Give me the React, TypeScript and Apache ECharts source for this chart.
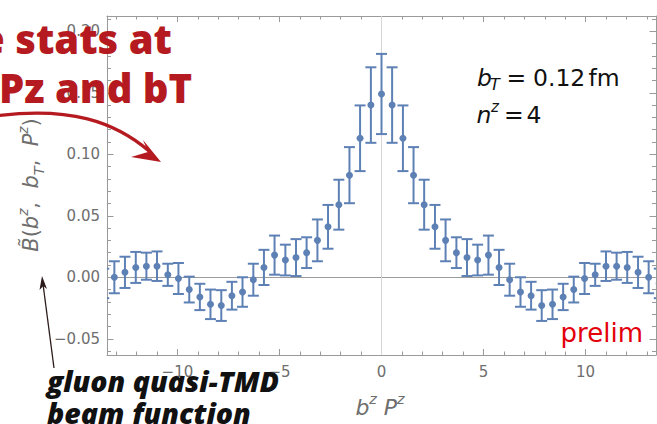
import { useEffect, useRef } from "react";
import * as echarts from "echarts";

// b^z P^z sample positions (n^z = 4)
const bzPz = [
  -13.61, -13.09, -12.57, -12.04, -11.52, -11.0, -10.47, -9.95, -9.42, -8.9,
  -8.38, -7.85, -7.33, -6.81, -6.28, -5.76, -5.24, -4.71, -4.19, -3.67, -3.14,
  -2.62, -2.09, -1.57, -1.05, -0.52, 0, 0.52, 1.05, 1.57, 2.09, 2.62, 3.14,
  3.67, 4.19, 4.71, 5.24, 5.76, 6.28, 6.81, 7.33, 7.85, 8.38, 8.9, 9.42, 9.95,
  10.47, 11.0, 11.52, 12.04, 12.57, 13.09, 13.61,
];

// quasi-TMD beam function values
const beamValues = [
  -0.005, 0.0, 0.004, 0.008, 0.009, 0.009, 0.002, -0.001, -0.01, -0.016,
  -0.022, -0.023, -0.015, -0.012, -0.002, 0.008, 0.018, 0.014, 0.016, 0.02,
  0.03, 0.041, 0.059, 0.083, 0.113, 0.14, 0.149, 0.14, 0.113, 0.083, 0.059,
  0.041, 0.03, 0.02, 0.016, 0.014, 0.018, 0.008, -0.002, -0.012, -0.015,
  -0.023, -0.022, -0.016, -0.01, -0.001, 0.002, 0.009, 0.009, 0.008, 0.004,
  0.0, -0.005,
];

// statistical uncertainties
const beamErrors = [
  0.012, 0.013, 0.0127, 0.0126, 0.011, 0.012, 0.009, 0.0126, 0.0105, 0.0107,
  0.012, 0.0125, 0.0113, 0.012, 0.013, 0.0143, 0.0159, 0.0125, 0.015, 0.0125,
  0.017, 0.0178, 0.0203, 0.0228, 0.0267, 0.0307, 0.0326, 0.0307, 0.0267,
  0.0228, 0.0203, 0.0178, 0.017, 0.0125, 0.015, 0.0125, 0.0159, 0.0143, 0.013,
  0.012, 0.0113, 0.0125, 0.012, 0.0107, 0.0105, 0.0126, 0.009, 0.012, 0.011,
  0.0126, 0.0127, 0.013, 0.012,
];

const xMajorTicks = [-10, -5, 0, 5, 10];
const xMinorTicks = [
  -13, -12, -11, -9, -8, -7, -6, -4, -3, -2, -1, 1, 2, 3, 4, 6, 7, 8, 9, 11, 12, 13,
];
const yMajorTicks = [-0.05, 0, 0.05, 0.1, 0.15, 0.2];
const yMinorTicks = [
  -0.06, -0.04, -0.03, -0.02, -0.01, 0.01, 0.02, 0.03, 0.04, 0.06, 0.07, 0.08,
  0.09, 0.11, 0.12, 0.13, 0.14, 0.16, 0.17, 0.18, 0.19, 0.21,
];

const X_MIN = -13.45;
const X_MAX = 13.45;
const Y_MIN = -0.0632;
const Y_MAX = 0.2124;

const BLUE = "#5E81B5";
const FRAME = "#9a9a9a";
const LABEL = "#6e6e6e";
const DARK_RED = "#B51A20";
const INK = "#111111";

const tickFont = { fontFamily: "DejaVu Sans", fontSize: 15, color: LABEL };

function xAxisDef(position: string, ticks: number[], len: number, labels: boolean, line: boolean) {
  return {
    type: "value",
    min: X_MIN,
    max: X_MAX,
    position,
    axisLine: { show: line, onZero: false, lineStyle: { color: FRAME, width: 1 } },
    axisTick: { show: true, inside: true, length: len, customValues: ticks, lineStyle: { color: FRAME, width: 1 } },
    axisLabel: {
      show: labels,
      customValues: ticks,
      margin: 9,
      ...tickFont,
      formatter: (v: number) => String(v).replace("-", "\u2212"),
    },
    splitLine: { show: false },
  };
}

function yAxisDef(position: string, ticks: number[], len: number, labels: boolean, line: boolean) {
  return {
    type: "value",
    min: Y_MIN,
    max: Y_MAX,
    position,
    axisLine: { show: line, onZero: false, lineStyle: { color: FRAME, width: 1 } },
    axisTick: { show: true, inside: true, length: len, customValues: ticks, lineStyle: { color: FRAME, width: 1 } },
    axisLabel: {
      show: labels,
      customValues: ticks,
      margin: 7,
      ...tickFont,
      formatter: (v: number) => v.toFixed(2).replace("-", "\u2212"),
    },
    splitLine: { show: false },
  };
}

// one piece of typeset math, placed by its baseline
function mathPiece(text: string, x: number, baseline: number, size: number, italic: boolean, color: string) {
  return {
    type: "text",
    x,
    y: baseline - 0.35 * size,
    z: 50,
    style: {
      text,
      fill: color,
      fontFamily: "DejaVu Sans",
      fontStyle: italic ? "italic" : "normal",
      fontSize: size,
      align: "left",
      verticalAlign: "middle",
    },
  };
}

export default function App() {
  const ref = useRef<HTMLDivElement>(null);

  useEffect(() => {
    if (!ref.current) return;
    const chart = echarts.init(ref.current, undefined, { renderer: "svg" });

    const points = bzPz.map((x, i) => [x, beamValues[i], beamErrors[i]]);

    const mathRich = (size: number, color: string) => ({
      i: { fontFamily: "DejaVu Sans", fontStyle: "italic", fontSize: size, lineHeight: 30, fill: color },
      n: { fontFamily: "DejaVu Sans", fontSize: size, lineHeight: 30, fill: color },
      sup: { fontFamily: "DejaVu Sans", fontStyle: "italic", fontSize: size * 0.65, lineHeight: 15, verticalAlign: "top", fill: color },
      sub: { fontFamily: "DejaVu Sans", fontStyle: "italic", fontSize: size * 0.7, lineHeight: 15, verticalAlign: "bottom", fill: color },
    });

    chart.setOption({
      animation: false,
      grid: { left: 107, top: 16, right: 1, bottom: 69, containLabel: false },
      xAxis: [
        xAxisDef("bottom", xMajorTicks, 6, true, true),
        xAxisDef("bottom", xMinorTicks, 3.5, false, false),
        xAxisDef("top", xMajorTicks, 6, false, true),
        xAxisDef("top", xMinorTicks, 3.5, false, false),
      ],
      yAxis: [
        yAxisDef("left", yMajorTicks, 6.5, true, true),
        yAxisDef("left", yMinorTicks, 4, false, false),
        yAxisDef("right", yMajorTicks, 6.5, false, true),
        yAxisDef("right", yMinorTicks, 4, false, false),
      ],
      series: [
        {
          type: "line",
          z: 1,
          data: [[0, 0]],
          symbol: "none",
          lineStyle: { opacity: 0 },
          silent: true,
          markLine: {
            silent: true,
            z: 1,
            symbol: ["none", "none"],
            label: { show: false },
            animation: false,
            data: [
              { yAxis: 0, lineStyle: { color: "#9c9c9c", width: 1, type: "solid" } },
              { xAxis: 0, lineStyle: { color: "#d6d6d6", width: 1, type: "solid" } },
            ],
          },
        },
        {
          type: "custom",
          z: 5,
          clip: true,
          data: points,
          encode: { x: 0, y: 1 },
          renderItem: (_params: any, api: any) => {
            const x = api.value(0);
            const y = api.value(1);
            const e = api.value(2);
            const c = api.coord([x, y]);
            const top = api.coord([x, y + e]);
            const bot = api.coord([x, y - e]);
            const cap = 5.5;
            const ls = { stroke: BLUE, lineWidth: 2 };
            return {
              type: "group",
              children: [
                { type: "line", shape: { x1: c[0], y1: top[1], x2: c[0], y2: bot[1] }, style: ls },
                { type: "line", shape: { x1: c[0] - cap, y1: top[1], x2: c[0] + cap, y2: top[1] }, style: ls },
                { type: "line", shape: { x1: c[0] - cap, y1: bot[1], x2: c[0] + cap, y2: bot[1] }, style: ls },
                { type: "circle", shape: { cx: c[0], cy: c[1], r: 3.5 }, style: { fill: BLUE } },
              ],
            };
          },
        },
      ],
      graphic: [
        // vertical axis title
        {
          type: "text",
          x: 46,
          y: 185,
          rotation: Math.PI / 2,
          z: 50,
          style: {
            text: "{i|B\u0303}{n|(}{i|b}{sup|z}{n|,  }{i|b}{sub|T}{n|,  }{i|P}{sup|z}{n|)}",
            rich: mathRich(21, LABEL),
            align: "center",
            verticalAlign: "bottom",
          },
        },
        // horizontal axis title
        {
          type: "text",
          x: 380,
          y: 392,
          z: 50,
          style: {
            text: "{i|b}{sup|z}{n| }{i|P}{sup|z}",
            rich: mathRich(22, LABEL),
            align: "center",
            verticalAlign: "top",
          },
        },
        // ensemble parameters: b_T = 0.12 fm
        mathPiece("b", 477, 86.7, 23.5, true, INK),
        mathPiece("T", 490, 90.5, 16, true, INK),
        mathPiece("=", 506.5, 86.7, 23.5, false, INK),
        mathPiece("0.12", 533, 86.7, 23.5, false, INK),
        mathPiece("fm", 588.5, 86.7, 23.5, false, INK),
        // n^z = 4
        mathPiece("n", 476.5, 123.3, 23.5, true, INK),
        mathPiece("z", 491, 112.5, 15, true, INK),
        mathPiece("=", 504, 123.3, 23.5, false, INK),
        mathPiece("4", 526.5, 123.3, 23.5, false, INK),
        {
          type: "text",
          x: 643,
          y: 333,
          z: 50,
          style: {
            text: "prelim",
            fill: "#E3000B",
            fontFamily: "DejaVu Sans",
            fontSize: 26,
            align: "right",
            verticalAlign: "middle",
          },
        },
        // slide annotation
        {
          type: "text",
          x: 172,
          y: 38,
          z: 60,
          style: {
            text: "e stats at",
            fill: DARK_RED,
            fontFamily: "Open Sans",
            fontWeight: 800,
            fontSize: 40,
            align: "right",
            verticalAlign: "middle",
          },
        },
        {
          type: "text",
          x: -1,
          y: 87,
          z: 60,
          style: {
            text: "Pz and bT",
            fill: DARK_RED,
            fontFamily: "Open Sans",
            fontWeight: 800,
            fontSize: 40,
            align: "left",
            verticalAlign: "middle",
          },
        },
        {
          type: "bezierCurve",
          z: 60,
          shape: { x1: -5, y1: 116, cpx1: 70, cpy1: 106, cpx2: 115, cpy2: 122, x2: 149, y2: 151 },
          style: { stroke: DARK_RED, lineWidth: 3.3, fill: null },
        },
        {
          type: "polygon",
          z: 60,
          shape: { points: [[161, 162], [143, 140], [148, 152], [131, 157]] },
          style: { fill: DARK_RED },
        },
        {
          type: "line",
          z: 60,
          shape: { x1: 54, y1: 368, x2: 43, y2: 284 },
          style: { stroke: "#2b1b1b", lineWidth: 1.3 },
        },
        {
          type: "polygon",
          z: 60,
          shape: { points: [[42, 276], [47, 289], [43.3, 286], [39.5, 290]] },
          style: { fill: "#2b1b1b" },
        },
        {
          type: "text",
          x: 47,
          y: 381,
          z: 60,
          style: {
            text: "gluon quasi-TMD",
            fill: INK,
            fontFamily: "Open Sans",
            fontWeight: 800,
            fontStyle: "italic",
            fontSize: 28.5,
            align: "left",
            verticalAlign: "middle",
          },
        },
        {
          type: "text",
          x: 47,
          y: 413,
          z: 60,
          style: {
            text: "beam function",
            fill: INK,
            fontFamily: "Open Sans",
            fontWeight: 800,
            fontStyle: "italic",
            fontSize: 28.5,
            align: "left",
            verticalAlign: "middle",
          },
        },
      ],
    });

    return () => chart.dispose();
  }, []);

  return (
    <div
      ref={ref}
      style={{ position: "absolute", left: 0, top: 0, width: 657, height: 424, background: "#fff" }}
    />
  );
}
